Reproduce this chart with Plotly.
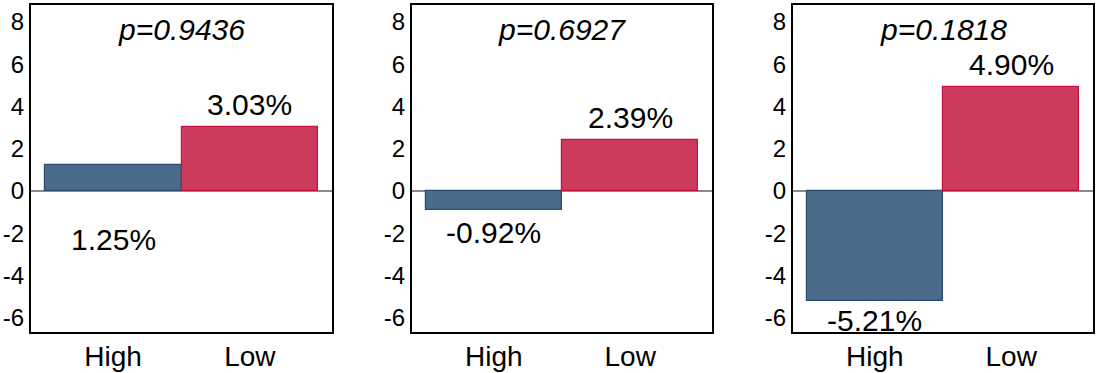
import plotly.graph_objects as go

categories = ["High", "Low"]
high_values = [1.25, -0.92, -5.21]
low_values = [3.03, 2.39, 4.90]
p_labels = ["p=0.9436", "p=0.6927", "p=0.1818"]
ytick_vals = [-6, -4, -2, 0, 2, 4, 6, 8]
ytick_text = ["-6", "-4", "-2", "0", "2", "4", "6", "8"]

FONT = "Arial, Liberation Sans, sans-serif"
BLUE_FILL = "#4a6b8a"
BLUE_LINE = "#2b4d6f"
RED_FILL = "#cc3a5c"
RED_LINE = "#c8123f"

domains = [[31 / 1102, 332 / 1102], [412 / 1102, 712 / 1102], [793 / 1102, 1093 / 1102]]

fig = go.Figure()
for i in range(3):
    ax = "" if i == 0 else str(i + 1)
    xref = "x" + ax
    yref = "y" + ax
    vals = [high_values[i], low_values[i]]
    fig.add_trace(go.Bar(
        x=[0, 1], y=vals, width=1.0,
        marker=dict(color=[BLUE_FILL, RED_FILL],
                    line=dict(color=[BLUE_LINE, RED_LINE], width=1.2)),
        xaxis=xref, yaxis=yref, showlegend=False, hoverinfo="skip",
    ))
    # High label: placed below the zero line / bar bottom
    fig.add_annotation(
        x=0, y=-abs(high_values[i]), xref=xref, yref=yref,
        text=f"{high_values[i]:.2f}%", showarrow=False,
        yanchor="top", yshift=-4 if i < 2 else -1,
        font=dict(family=FONT, size=30, color="black"),
    )
    # Low label: above bar
    fig.add_annotation(
        x=1, y=low_values[i], xref=xref, yref=yref,
        text=f"{low_values[i]:.2f}%", showarrow=False,
        yanchor="bottom", yshift=4,
        font=dict(family=FONT, size=30, color="black"),
    )
    # p-value title
    fig.add_annotation(
        x=0.5, y=1, xref=xref + " domain", yref=yref + " domain",
        text=f"<i>{p_labels[i]}</i>", showarrow=False,
        yanchor="top", yshift=-6,
        font=dict(family=FONT, size=30, color="black"),
    )
    fig.update_layout(**{
        "xaxis" + ax: dict(
            domain=domains[i], range=[-0.6, 1.6],
            tickvals=[0, 1], ticktext=categories,
            showline=True, linecolor="black", linewidth=2, mirror=True,
            showgrid=False, zeroline=False, ticks="",
            tickfont=dict(family=FONT, size=28, color="black"),
            ticklabelstandoff=-2,
            fixedrange=True, automargin=False,
        ),
        "yaxis" + ax: dict(
            range=[-6.67, 8.8], tickvals=ytick_vals, ticktext=ytick_text,
            showline=True, linecolor="black", linewidth=2, mirror=True,
            showgrid=False, zeroline=True, zerolinecolor="#8a8a8a", zerolinewidth=2,
            ticks="", anchor=xref,
            tickfont=dict(family=FONT, size=24, color="black"),
            fixedrange=True, automargin=False,
        ),
    })
    fig.layout["xaxis" + ax].anchor = yref

fig.update_layout(
    width=1102, height=373,
    margin=dict(l=0, r=0, t=5, b=41),
    paper_bgcolor="white", plot_bgcolor="white",
    bargap=0, showlegend=False,
    font=dict(family=FONT, color="black"),
)

fig.write_html(
    "out.html",
    config={"displayModeBar": False},
    post_script="document.body.style.margin='0';document.body.style.overflow='hidden';",
)
